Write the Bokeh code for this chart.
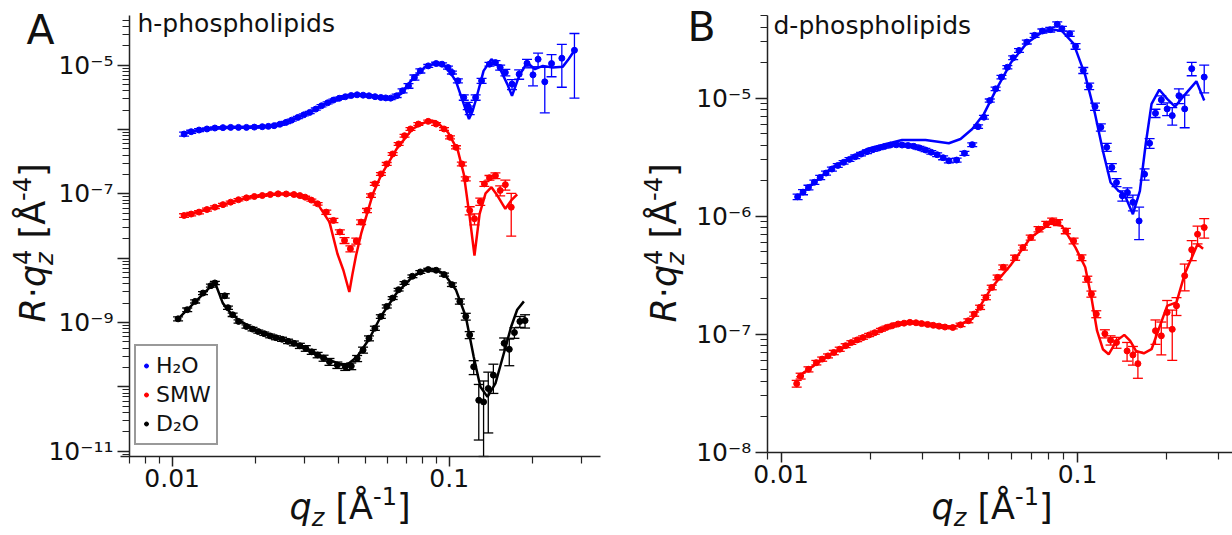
import numpy as np
from bokeh.plotting import figure
from bokeh.models import (ColumnDataSource, Whisker, TeeHead, FixedTicker,
                          CustomJSTickFormatter, Label, Legend, LegendItem, Range1d)
from bokeh.layouts import row
from bokeh.embed import file_html
from bokeh.resources import INLINE

# ---------------- Panel A: h-phospholipids ----------------
a_h2o_q = [0.01104, 0.01171, 0.0125, 0.01335, 0.01426, 0.01525, 0.01626, 0.01735, 0.01854, 0.0198,
           0.02115, 0.02225, 0.02333, 0.0245, 0.02575, 0.027, 0.02842, 0.02985, 0.03136, 0.033,
           0.03461, 0.0364, 0.03819, 0.0401, 0.04215, 0.0443, 0.04652, 0.0489, 0.05134, 0.054,
           0.05666, 0.059, 0.0615, 0.06461, 0.06787, 0.0713, 0.0749, 0.07868, 0.08403, 0.08974,
           0.09426, 0.09901, 0.1023, 0.1075, 0.1129, 0.1167, 0.1186, 0.1246, 0.1309, 0.1398,
           0.1469, 0.1528, 0.1595, 0.1686, 0.1789, 0.191, 0.2007, 0.2094, 0.2214, 0.2342,
           0.2551, 0.2833]
a_h2o_r = [8.51e-7, 9.25e-7, 9.82e-7, 1.02e-6, 1.055e-6, 1.07e-6, 1.08e-6, 1.08e-6, 1.08e-6, 1.09e-6,
           1.106e-6, 1.12e-6, 1.147e-6, 1.21e-6, 1.291e-6, 1.40e-6, 1.543e-6, 1.69e-6, 1.845e-6, 2.08e-6,
           2.342e-6, 2.60e-6, 2.866e-6, 3.06e-6, 3.228e-6, 3.38e-6, 3.467e-6, 3.42e-6, 3.345e-6, 3.24e-6,
           3.15e-6, 3.10e-6, 3.077e-6, 3.345e-6, 4.0e-6, 4.78e-6, 6.44e-6, 8.17e-6, 9.76e-6, 1.061e-5,
           1.036e-5, 9.2e-6, 7.7e-6, 5.72e-6, 3.15e-6, 2.34e-6, 2.006e-6, 3.15e-6, 5.72e-6, 1.036e-5,
           1.1e-5, 9.2e-6, 7.7e-6, 5.08e-6, 7.25e-6, 1.07e-5, 7.08e-6, 1.239e-5, 5.52e-6, 1.061e-5,
           1.284e-5, 1.708e-5]
a_h2o_e = [6e-8, 5e-8, 5e-8, 4e-8, 4e-8, 4e-8, 4e-8, 4e-8, 4e-8, 4e-8,
           4e-8, 4e-8, 4e-8, 5e-8, 5e-8, 5e-8, 6e-8, 6e-8, 7e-8, 8e-8,
           9e-8, 1e-7, 1.1e-7, 1.2e-7, 1.2e-7, 1.3e-7, 1.3e-7, 1.3e-7, 1.3e-7, 1.3e-7,
           1.3e-7, 1.3e-7, 1.5e-7, 2e-7, 3e-7, 4e-7, 6e-7, 6e-7, 5e-7, 5e-7,
           5e-7, 5e-7, 4e-7, 4e-7, 3e-7, 3e-7, 3e-7, 3e-7, 5e-7, 7e-7,
           8e-7, 8e-7, 9e-7, 9e-7, 1.2e-6, 1.6e-6, 2.3e-6, 3e-6, 3.7e-6, 4e-6,
           8.3e-6, 1.4e-5]

a_smw_q = [0.01104, 0.01171, 0.0125, 0.01335, 0.01426, 0.01525, 0.01626, 0.01735, 0.01854, 0.0198,
           0.02115, 0.0226, 0.02412, 0.0258, 0.0275, 0.0289, 0.0302, 0.0318, 0.0335, 0.036,
           0.0382, 0.0403, 0.0419, 0.044, 0.0462, 0.0481, 0.0505, 0.0522, 0.0539, 0.0567,
           0.0595, 0.0625, 0.0657, 0.069, 0.0725, 0.0774, 0.084, 0.0897, 0.0958, 0.1007,
           0.1058, 0.1111, 0.1148, 0.1186, 0.1234, 0.1295, 0.134, 0.1398, 0.1469, 0.1528,
           0.1595, 0.1675]
a_smw_r = [4.61e-8, 4.85e-8, 5.2e-8, 5.7e-8, 6.21e-8, 6.8e-8, 7.43e-8, 8.1e-8, 8.67e-8, 9.1e-8,
           9.42e-8, 9.75e-8, 1.0e-7, 9.95e-8, 9.77e-8, 9.4e-8, 8.88e-8, 8.0e-8, 7.0e-8, 5.2e-8,
           3.86e-8, 2.55e-8, 1.89e-8, 1.40e-8, 1.85e-8, 3.64e-8, 5.52e-8, 9.4e-8, 1.43e-7, 2.04e-7,
           2.92e-7, 4.17e-7, 5.96e-7, 8.02e-7, 1.02e-6, 1.217e-6, 1.34e-6, 1.217e-6, 1.02e-6, 7.56e-7,
           5.29e-7, 2.92e-7, 1.71e-7, 5.5e-8, 4.1e-8, 7.6e-8, 1.43e-7, 1.78e-7, 1.92e-7, 1.13e-7,
           1.39e-7, 6.2e-8]
a_smw_e = [3e-9, 3e-9, 3e-9, 3e-9, 3e-9, 3e-9, 3e-9, 3e-9, 3e-9, 3e-9,
           3e-9, 3e-9, 3e-9, 3e-9, 3e-9, 3e-9, 3e-9, 3e-9, 3e-9, 4e-9,
           3e-9, 2e-9, 2e-9, 1.5e-9, 2e-9, 3e-9, 4e-9, 6e-9, 8e-9, 1e-8,
           1.5e-8, 2e-8, 3e-8, 4e-8, 5e-8, 6e-8, 6e-8, 6e-8, 5e-8, 4e-8,
           3e-8, 2e-8, 1.2e-8, 8e-9, 8e-9, 1e-8, 1.2e-8, 1.5e-8, 2e-8, 2e-8,
           2.5e-8, 4e-8]

a_d2o_q = [0.0105, 0.01133, 0.0121, 0.01292, 0.0138, 0.01426, 0.01548, 0.0159, 0.01653, 0.01736,
           0.01854, 0.0195, 0.02046, 0.0215, 0.02258, 0.0237, 0.02493, 0.0262, 0.0275, 0.0289,
           0.03035, 0.0319, 0.0335, 0.0352, 0.03697, 0.03947, 0.04215, 0.0443, 0.04652, 0.04887,
           0.05134, 0.05393, 0.05666, 0.05952, 0.06252, 0.06568, 0.069, 0.07366, 0.07868, 0.08403,
           0.08974, 0.09583, 0.1023, 0.1093, 0.1148, 0.1186, 0.1226, 0.1279, 0.1331, 0.1384,
           0.1444, 0.1579, 0.1648, 0.172, 0.18, 0.1879]
a_d2o_r = [1.14e-9, 1.58e-9, 2.13e-9, 2.87e-9, 3.74e-9, 4.12e-9, 2.6e-9, 1.7e-9, 1.32e-9, 1.04e-9,
           8.66e-10, 7.9e-10, 7.23e-10, 6.7e-10, 6.19e-10, 5.8e-10, 5.49e-10, 5.1e-10, 4.75e-10, 4.35e-10,
           3.97e-10, 3.5e-10, 3.13e-10, 2.8e-10, 2.46e-10, 2.18e-10, 2.05e-10, 2.1e-10, 2.77e-10, 3.74e-10,
           5.69e-10, 8.16e-10, 1.24e-9, 1.78e-9, 2.4e-9, 3.24e-9, 4.12e-9, 5.23e-9, 6.11e-9, 6.65e-9,
           6.49e-9, 5.56e-9, 3.88e-9, 2.13e-9, 1.24e-9, 6.42e-10, 2.05e-10, 6.19e-11, 5.83e-11, 9.42e-11,
           1.52e-10, 4.75e-10, 3.83e-10, 6.98e-10, 1.04e-9, 1.07e-9]
a_d2o_e = [8e-11, 1e-10, 1.2e-10, 1.5e-10, 2e-10, 2.5e-10, 2e-10, 1e-10, 8e-11, 6e-11,
           5e-11, 5e-11, 4e-11, 4e-11, 4e-11, 4e-11, 4e-11, 4e-11, 4e-11, 4e-11,
           4e-11, 3e-11, 3e-11, 3e-11, 3e-11, 2.5e-11, 2.5e-11, 2.5e-11, 3e-11, 4e-11,
           5e-11, 6e-11, 8e-11, 1e-10, 1.2e-10, 1.5e-10, 2e-10, 2.5e-10, 3e-10, 3e-10,
           3e-10, 3e-10, 2.5e-10, 2e-10, 1.5e-10, 8e-11, 5e-11, 4.7e-11, 6.5e-11, 7.5e-11,
           7.3e-11, 1e-10, 1.7e-10, 1.3e-10, 2e-10, 2.5e-10]

a_h2o_fit_q = [0.01104, 0.0125, 0.01426, 0.01626, 0.01854, 0.02115, 0.02333, 0.02575, 0.02842, 0.03136,
               0.03461, 0.03819, 0.04215, 0.04652, 0.05305, 0.0615, 0.06676, 0.07366, 0.0813, 0.08974,
               0.0974, 0.1057, 0.1129, 0.1179, 0.1213, 0.1246, 0.1331, 0.1421, 0.1518, 0.1621,
               0.1686, 0.1789, 0.191, 0.204, 0.2178, 0.2365, 0.2568, 0.2697, 0.2851]
a_h2o_fit_r = [8.7e-7, 9.8e-7, 1.06e-6, 1.08e-6, 1.09e-6, 1.11e-6, 1.15e-6, 1.3e-6, 1.54e-6, 1.85e-6,
               2.34e-6, 2.85e-6, 3.23e-6, 3.55e-6, 3.3e-6, 2.97e-6, 3.55e-6, 6.07e-6, 9.2e-6, 1.087e-5,
               9.42e-6, 5.72e-6, 2.48e-6, 1.455e-6, 1.9e-6, 2.8e-6, 8.17e-6, 1.239e-5, 9.2e-6, 5.08e-6,
               3.345e-6, 6.83e-6, 1.1e-5, 8.67e-6, 9.76e-6, 9.2e-6, 9.42e-6, 1.24e-5, 1.77e-5]

a_smw_fit_q = [0.01104, 0.01426, 0.01854, 0.02412, 0.02937, 0.0335, 0.03697, 0.0395, 0.0415, 0.0436,
               0.0447, 0.0461, 0.0481, 0.0505, 0.05305, 0.05666, 0.06461, 0.07366, 0.08403, 0.08974,
               0.09901, 0.1075, 0.1129, 0.1186, 0.1234, 0.1288, 0.1353, 0.1421, 0.1493, 0.1595,
               0.1675, 0.176]
a_smw_fit_r = [4.61e-8, 6.2e-8, 8.67e-8, 1.0e-7, 9.5e-8, 7.0e-8, 3.64e-8, 1.17e-8, 6.5e-9, 2.98e-9,
               5.5e-9, 1.1e-8, 2.4e-8, 4.9e-8, 1.0e-7, 1.92e-7, 5.0e-7, 1.02e-6, 1.37e-6, 1.34e-6,
               9.04e-7, 4.7e-7, 2.04e-7, 4.35e-8, 1.1e-8, 4.9e-8, 1.02e-7, 1.27e-7, 9.4e-8, 5.85e-8,
               7.9e-8, 9.8e-8]

a_d2o_fit_q = [0.0105, 0.01426, 0.01523, 0.01626, 0.01736, 0.0198, 0.02412, 0.02937, 0.0358, 0.04215,
               0.04652, 0.05134, 0.05666, 0.06461, 0.07366, 0.0813, 0.08826, 0.09583, 0.1057, 0.1148,
               0.1226, 0.1296, 0.1375, 0.1469, 0.1569, 0.1675, 0.176, 0.1861]
a_d2o_fit_r = [1.14e-9, 4.22e-9, 2.0e-9, 1.4e-9, 1.1e-9, 7.87e-10, 5.75e-10, 4.32e-10, 2.77e-10, 2.1e-10,
               2.94e-10, 5.49e-10, 1.24e-9, 2.87e-9, 5.11e-9, 6.49e-9, 6.81e-9, 5.75e-9, 3.24e-9, 1.24e-9,
               2.94e-10, 1.0e-10, 6.98e-11, 1.13e-10, 3.13e-10, 8.66e-10, 1.58e-9, 2.13e-9]

# ---------------- Panel B: d-phospholipids ----------------
b_h2o_q = [0.01136, 0.01185, 0.01236, 0.01294, 0.01354, 0.01417, 0.01483, 0.01552, 0.01624, 0.017,
           0.01778, 0.0186, 0.01947, 0.02038, 0.02133, 0.02233, 0.02336, 0.02445, 0.02558, 0.0268,
           0.02802, 0.0293, 0.03068, 0.0321, 0.0336, 0.0352, 0.0368, 0.03909, 0.04153, 0.04413,
           0.04618, 0.04833, 0.05057, 0.05292, 0.05538, 0.05798, 0.06066, 0.06348, 0.06744, 0.07166,
           0.07613, 0.0809, 0.08543, 0.08859, 0.09413, 0.0985, 0.1046, 0.1095, 0.1146, 0.1199,
           0.1255, 0.1306, 0.1354, 0.1417, 0.1474, 0.1538, 0.1614, 0.1684, 0.1751, 0.1833,
           0.1918, 0.2007, 0.2088, 0.2199, 0.23, 0.2429, 0.2677]
b_h2o_r = [1.46e-6, 1.6e-6, 1.75e-6, 1.94e-6, 2.13e-6, 2.32e-6, 2.51e-6, 2.69e-6, 2.86e-6, 3.03e-6,
           3.19e-6, 3.36e-6, 3.52e-6, 3.66e-6, 3.78e-6, 3.9e-6, 4.01e-6, 4.03e-6, 4.01e-6, 3.97e-6,
           3.91e-6, 3.79e-6, 3.64e-6, 3.48e-6, 3.32e-6, 3.13e-6, 2.95e-6, 2.99e-6, 3.41e-6, 4.04e-6,
           5.74e-6, 6.9e-6, 9.55e-6, 1.2e-5, 1.51e-5, 1.83e-5, 2.2e-5, 2.54e-5, 2.99e-5, 3.41e-5,
           3.71e-5, 3.81e-5, 4.23e-5, 3.88e-5, 3.52e-5, 2.75e-5, 1.72e-5, 1.26e-5, 8.5e-6, 5.67e-6,
           3.84e-6, 2.59e-6, 1.93e-6, 1.49e-6, 1.59e-6, 1.31e-6, 9.12e-7, 2.27e-6, 4.15e-6, 7.46e-6,
           9.68e-6, 8.12e-6, 7.12e-6, 1.05e-5, 8.12e-6, 1.78e-5, 1.51e-5]
b_h2o_e = [8e-8, 8e-8, 8e-8, 8e-8, 9e-8, 9e-8, 1e-7, 1e-7, 1e-7, 1.1e-7,
           1.1e-7, 1.1e-7, 1.2e-7, 1.2e-7, 1.2e-7, 1.2e-7, 1.2e-7, 1.2e-7, 1.2e-7, 1.2e-7,
           1.2e-7, 1.2e-7, 1.2e-7, 1.2e-7, 1.2e-7, 1.2e-7, 1.2e-7, 1.2e-7, 1.3e-7, 1.5e-7,
           2e-7, 2.5e-7, 3e-7, 4e-7, 5e-7, 6e-7, 8e-7, 9e-7, 1.1e-6, 1.3e-6,
           1.5e-6, 1.7e-6, 2e-6, 1.8e-6, 1.8e-6, 1.5e-6, 1e-6, 8e-7, 6e-7, 4e-7,
           3e-7, 2e-7, 1.5e-7, 1.5e-7, 1.5e-7, 2e-7, 2.8e-7, 2.5e-7, 4e-7, 6e-7,
           8e-7, 1e-6, 1.2e-6, 1.5e-6, 2.5e-6, 2.3e-6, 4e-6]

b_smw_q = [0.01128, 0.01163, 0.01236, 0.01314, 0.01375, 0.01439, 0.01505, 0.01576, 0.0165, 0.01725,
           0.01805, 0.01889, 0.0198, 0.0207, 0.0217, 0.02266, 0.0237, 0.02481, 0.02598, 0.02718,
           0.0285, 0.02976, 0.0312, 0.0326, 0.0341, 0.0357, 0.03793, 0.0403, 0.04281, 0.0448,
           0.04691, 0.04908, 0.05135, 0.05375, 0.05618, 0.06159, 0.06544, 0.06952, 0.07386, 0.07846,
           0.08213, 0.08596, 0.0913, 0.09701, 0.1031, 0.1079, 0.1114, 0.1157, 0.1237, 0.1293,
           0.1354, 0.147, 0.1538, 0.1599, 0.1833, 0.1918, 0.2007, 0.2088, 0.2158, 0.23,
           0.2429, 0.2542, 0.2677]
b_smw_r = [3.81e-8, 4.42e-8, 5.04e-8, 5.74e-8, 6.15e-8, 6.55e-8, 7.0e-8, 7.46e-8, 8.0e-8, 8.5e-8,
           8.95e-8, 9.37e-8, 9.85e-8, 1.03e-7, 1.09e-7, 1.14e-7, 1.18e-7, 1.22e-7, 1.24e-7, 1.26e-7,
           1.25e-7, 1.23e-7, 1.21e-7, 1.19e-7, 1.17e-7, 1.15e-7, 1.14e-7, 1.2e-7, 1.3e-7, 1.48e-7,
           1.69e-7, 2.05e-7, 2.49e-7, 3.03e-7, 3.69e-7, 4.45e-7, 5.42e-7, 6.59e-7, 7.76e-7, 8.55e-7,
           9.12e-7, 8.83e-7, 7.5e-7, 6.17e-7, 4.45e-7, 2.93e-7, 2.19e-7, 1.48e-7, 1.01e-7, 8.89e-8,
           8.5e-8, 7.21e-8, 6.67e-8, 5.63e-8, 1.07e-7, 9.68e-8, 1.53e-7, 1.1e-7, 1.74e-7, 3.13e-7,
           5.2e-7, 7.03e-7, 8.02e-7]
b_smw_e = [2.5e-9, 2.5e-9, 2.5e-9, 2.5e-9, 2.5e-9, 2.5e-9, 3e-9, 3e-9, 3e-9, 3e-9,
           3e-9, 3e-9, 3e-9, 3e-9, 3e-9, 3e-9, 3e-9, 3e-9, 3e-9, 3e-9,
           3e-9, 3e-9, 3e-9, 3e-9, 3e-9, 3e-9, 3e-9, 4e-9, 5e-9, 6e-9,
           7e-9, 9e-9, 1.1e-8, 1.4e-8, 1.7e-8, 2.2e-8, 2.7e-8, 3.3e-8, 4e-8, 5e-8,
           5e-8, 5e-8, 4e-8, 3.5e-8, 2.5e-8, 1.7e-8, 1.3e-8, 1e-8, 8e-9, 8e-9,
           9e-9, 1.3e-8, 1.2e-8, 1.4e-8, 2.5e-8, 3e-8, 4e-8, 5e-8, 3e-8, 8e-8,
           1e-7, 1.2e-7, 1.5e-7]

b_h2o_fit_q = [0.01136, 0.01483, 0.01947, 0.02558, 0.03068, 0.0368, 0.0403, 0.04413, 0.04833, 0.05292,
               0.05975, 0.06744, 0.07613, 0.08213, 0.08859, 0.09701, 0.1062, 0.1146, 0.1218, 0.1293,
               0.1375, 0.1438, 0.1538, 0.1624, 0.1699, 0.1778, 0.1889, 0.2007, 0.2133, 0.2266,
               0.2519, 0.2677]
b_h2o_fit_r = [1.46e-6, 2.59e-6, 3.71e-6, 4.42e-6, 4.42e-6, 4.15e-6, 4.51e-6, 5.49e-6, 7.36e-6, 1.16e-5,
               2.02e-5, 2.93e-5, 3.64e-5, 3.83e-5, 3.71e-5, 2.9e-5, 1.56e-5, 7.36e-6, 3.59e-6, 1.93e-6,
               1.64e-6, 1.54e-6, 1.04e-6, 1.64e-6, 4.09e-6, 8.95e-6, 1.18e-5, 9.87e-6, 8.49e-6, 1.02e-5,
               1.39e-5, 9.55e-6]

b_smw_fit_q = [0.01128, 0.01439, 0.01889, 0.02481, 0.02976, 0.03793, 0.04413, 0.05135, 0.05975, 0.06952,
               0.0809, 0.08859, 0.0985, 0.1062, 0.1114, 0.1164, 0.1218, 0.1274, 0.1354, 0.1438,
               0.1506, 0.1575, 0.1674, 0.1778, 0.1889, 0.2007, 0.2158, 0.23, 0.2429, 0.2542,
               0.2654]
b_smw_fit_r = [4.3e-8, 6.55e-8, 9.37e-8, 1.22e-7, 1.25e-7, 1.14e-7, 1.35e-7, 2.49e-7, 3.91e-7, 6.59e-7,
               8.67e-7, 8.28e-7, 5.42e-7, 3.69e-7, 2.05e-7, 1.07e-7, 7.46e-8, 6.76e-8, 8.78e-8, 9.87e-8,
               8.78e-8, 7.21e-8, 6.89e-8, 7.46e-8, 1.14e-7, 1.74e-7, 1.86e-7, 3.23e-7, 4.45e-7, 5.78e-7,
               5.3e-7]

legend_labels = ["H\u2082O", "SMW", "D\u2082O"]
BLUE, RED, BLACK = "#0000ff", "#ff0000", "#000000"
FONT = "DejaVu Sans"
BASE_FIX = 0.39   # measured offset of the rendered baseline, in em

SUP = "const m = {'-':'\u207b','0':'\u2070','1':'\u00b9','2':'\u00b2','3':'\u00b3','4':'\u2074','5':'\u2075','6':'\u2076','7':'\u2077','8':'\u2078','9':'\u2079'};"


def within(vals, lo, hi):
    return [v for v in vals if lo * 0.999 <= v <= hi * 1.001]


def make_fig(width, height, xr, yr, x_at, y_at, xbounds, ybounds, skip_even):
    p = figure(width=width, height=height, x_axis_type="log", y_axis_type="log",
               x_range=Range1d(*xr), y_range=Range1d(*yr),
               output_backend="svg", toolbar_location=None,
               min_border_left=0, min_border_right=0, min_border_top=0, min_border_bottom=0)
    p.outline_line_color = None
    p.grid.visible = False
    p.background_fill_color = "white"
    p.border_fill_color = "white"
    xa, ya = p.xaxis[0], p.yaxis[0]
    xa.fixed_location = y_at
    ya.fixed_location = x_at
    xa.bounds = xbounds
    ya.bounds = ybounds
    for ax in (xa, ya):
        ax.axis_line_color = "#222222"
        ax.axis_line_width = 1.5
        ax.major_tick_line_color = "#222222"
        ax.minor_tick_line_color = "#222222"
        ax.major_tick_line_width = 1.5
        ax.minor_tick_line_width = 1.2
        ax.major_tick_in = 0
        ax.minor_tick_in = 0
        ax.major_label_text_font = FONT
        ax.major_label_text_font_size = "25px"
        ax.major_label_text_color = "#111111"
    xa.major_tick_out = 10
    xa.minor_tick_out = 7
    xa.major_label_standoff = 3
    ya.major_tick_out = 12
    ya.minor_tick_out = 7
    ya.major_label_standoff = 4
    xmaj = within([0.001, 0.01, 0.1, 1.0], *xbounds)
    xmin = within([m * 10.0 ** k for k in (-3, -2, -1) for m in range(2, 10)], *xbounds)
    ymaj = within([10.0 ** k for k in range(-13, -2)], *ybounds)
    ymin = within([m * 10.0 ** k for k in range(-13, -2) for m in range(2, 10)], *ybounds)
    xa.ticker = FixedTicker(ticks=xmaj, minor_ticks=xmin)
    xa.formatter = CustomJSTickFormatter(code="return tick.toString();")
    ya.ticker = FixedTicker(ticks=ymaj, minor_ticks=ymin)
    ya.formatter = CustomJSTickFormatter(args=dict(skip=skip_even), code=SUP + """
        const e = Math.round(Math.log10(tick));
        if (skip && e % 2 === 0) { return ""; }
        return "10" + String(e).split("").map(c => m[c]).join("");
    """)
    return p


def add_series(p, q, r, e, color, floor):
    q = np.array(q); r = np.array(r); e = np.array(e)
    lo = np.maximum(r - e, floor)
    hi = r + e
    src = ColumnDataSource(dict(q=q, r=r, lo=lo, hi=hi))
    w = Whisker(base="q", lower="lo", upper="hi", source=src, dimension="height",
                line_color=color, line_width=1.3,
                upper_head=TeeHead(size=10, line_color=color, line_width=1.3),
                lower_head=TeeHead(size=10, line_color=color, line_width=1.3))
    p.add_layout(w)
    return p.scatter("q", "r", source=src, size=6, color=color)


def add_fit(p, q, r, color):
    p.line(q, r, line_color=color, line_width=2.5)


def add_text(p, txt, sx, sy, size, style="normal", angle=0.0):
    # sx, sy: where the text baseline should start (screen px from the bottom-left)
    if angle == 0.0:
        sy = sy + BASE_FIX * size
    else:
        sx = sx - BASE_FIX * size
    p.add_layout(Label(x=sx, y=sy, x_units="screen", y_units="screen", text=txt,
                       text_font=FONT, text_font_size=f"{size}px", text_font_style=style,
                       text_color="#111111", angle=angle,
                       text_align="left", text_baseline="alphabetic"))


def y_label(p, bx, by):
    # rotated label R·q_z^4 [Å^-4]
    pieces = [("R", 35, "italic", 0.0, 0), ("\u00b7", 35, "normal", 24.3, 0),
              ("q", 35, "italic", 35.4, 0), ("z", 24, "italic", 57.6, -8),
              ("4", 24, "normal", 57.6, 15), ("[\u00c5", 35, "normal", 84.0, 0),
              ("-4", 24, "normal", 121.6, 15), ("]", 35, "normal", 145.5, 0)]
    for t, s, st, off, sh in pieces:
        add_text(p, t, bx - sh, by + off, s, st, angle=np.pi / 2)


def x_label(p, sx, by):
    pieces = [("q", 35, "italic", 0.0, 0), ("z", 24, "italic", 22.2, -7),
              ("[\u00c5", 35, "normal", 45.9, 0), ("-1", 24, "normal", 83.5, 15),
              ("]", 35, "normal", 107.4, 0)]
    for t, s, st, off, sh in pieces:
        add_text(p, t, sx + off, by + sh, s, st)


# ---------------- Panel A ----------------
pa = make_fig(624, 535, (0.0023995, 0.4295), (4.887e-13, 1.0133e-4),
              0.00701, 8.27e-12, (0.00651, 0.3517), (8.27e-12, 5.924e-5), True)
r1 = add_series(pa, a_h2o_q, a_h2o_r, a_h2o_e, BLUE, 8.27e-12)
r2 = add_series(pa, a_smw_q, a_smw_r, a_smw_e, RED, 8.27e-12)
r3 = add_series(pa, a_d2o_q, a_d2o_r, a_d2o_e, BLACK, 8.27e-12)
add_fit(pa, a_h2o_fit_q, a_h2o_fit_r, BLUE)
add_fit(pa, a_smw_fit_q, a_smw_fit_r, RED)
add_fit(pa, a_d2o_fit_q, a_d2o_fit_r, BLACK)

items = [LegendItem(label=lab, renderers=[rr]) for lab, rr in zip(legend_labels, (r1, r2, r3))]
leg = Legend(items=items, location=(134, 90), label_text_font=FONT, label_text_font_size="22px",
             label_text_color="#111111", label_height=29, glyph_height=29, glyph_width=10,
             label_standoff=5, spacing=0, padding=5, margin=0,
             border_line_color="#333333", border_line_width=2, background_fill_alpha=1.0)
pa.add_layout(leg)

add_text(pa, "h-phospholipids", 137, 502, 25)
add_text(pa, "A", 26, 490, 41)
y_label(pa, 46, 213)
x_label(pa, 289, 15)

# ---------------- Panel B ----------------
pb = make_fig(608, 535, (0.002959, 0.3335), (1.968e-9, 6.73e-5),
              0.00897, 1.0e-8, (0.00897, 0.3335), (1.0e-8, 5.02e-5), False)
add_series(pb, b_h2o_q, b_h2o_r, b_h2o_e, BLUE, 1.0e-8)
add_series(pb, b_smw_q, b_smw_r, b_smw_e, RED, 1.0e-8)
add_fit(pb, b_h2o_fit_q, b_h2o_fit_r, BLUE)
add_fit(pb, b_smw_fit_q, b_smw_fit_r, RED)

add_text(pb, "d-phospholipids", 149, 500, 25)
add_text(pb, "B", 63, 493, 41)
y_label(pb, 53, 213)
x_label(pb, 307, 15)

layout = row(pa, pb)
open("out.html", "w", encoding="utf-8").write(file_html(layout, INLINE))
